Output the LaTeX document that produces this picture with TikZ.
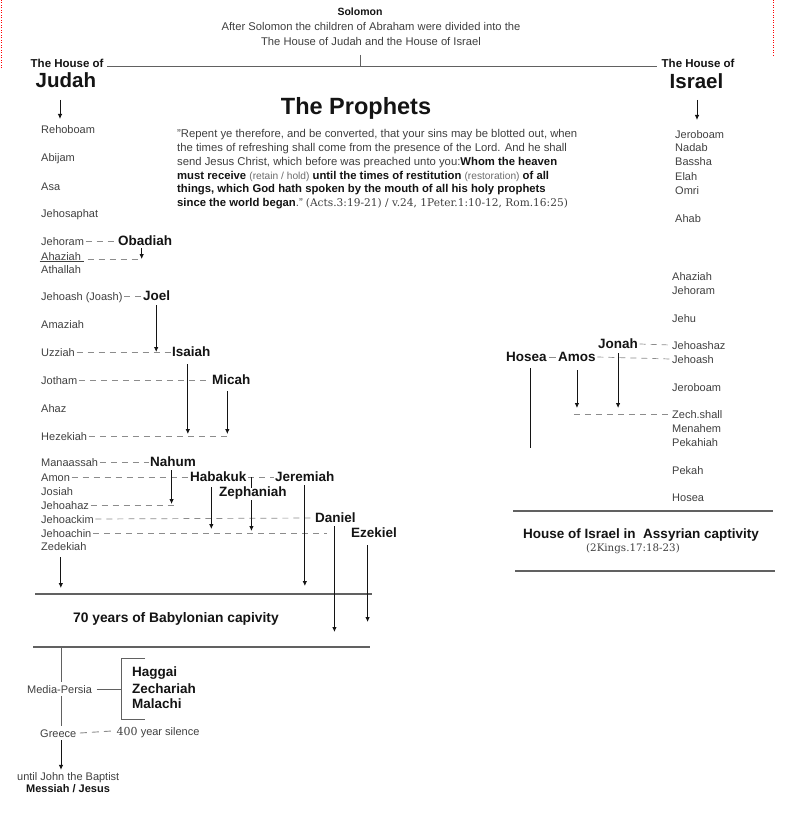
\documentclass[tikz,border=0pt]{standalone}
\usepackage{fontspec}
\setmainfont{Liberation Sans}
\newfontfamily\citefont{DejaVu Serif}
\usetikzlibrary{arrows.meta}
\definecolor{txt}{gray}{0.25}
\definecolor{dk}{gray}{0.08}
\definecolor{dashc}{gray}{0.55}
\definecolor{rulec}{gray}{0.38}
\definecolor{parc}{gray}{0.42}
\newcommand{\qb}[1]{{\bfseries\color{dk}#1}}
\newcommand{\qp}[1]{{\fontsize{10.2}{11}\selectfont\color{parc}#1}}
\begin{document}
\begin{tikzpicture}[x=1pt,y=-1pt,
  king/.style={font=\fontsize{11}{13}\selectfont, text=txt, inner xsep=1.5pt, inner ysep=0pt, text height=8pt, text depth=0pt, anchor=west},
  proph/.style={font=\bfseries\fontsize{13.5}{16}\selectfont, text=dk, inner xsep=1.5pt, inner ysep=0pt, text height=9.7pt, text depth=0pt, anchor=west},
  hdr/.style={font=\bfseries\fontsize{11.5}{13}\selectfont, text=dk, inner xsep=1.5pt, inner ysep=0pt, text height=8.2pt, text depth=0pt, anchor=west},
  big/.style={font=\bfseries\fontsize{20.5}{24}\selectfont, text=dk, inner xsep=1.5pt, inner ysep=0pt, text height=14.6pt, text depth=0pt, anchor=west},
  quote/.style={font=\fontsize{11.3}{12}\selectfont, text=txt, inner sep=0pt, anchor=base west},
  dsh/.style={draw=dashc, line width=0.7pt, dash pattern=on 6pt off 5pt},
  arr/.style={draw=dk, line width=0.8pt, -{Latex[length=5pt,width=4.5pt]}},
  rulel/.style={draw=rulec, line width=1.1pt},
  sline/.style={draw=rulec, line width=0.8pt},
]
\fill[white] (0,0) rectangle (802,821);
\useasboundingbox (0,0) rectangle (802,821);

% stray red dotted marks at the edges
\coordinate (redA) at (1,0); \coordinate (redB) at (1,68);
\coordinate (redC) at (773,0); \coordinate (redD) at (773,57);
\draw[red, line width=0.6pt, dash pattern=on 1pt off 1.5pt] (redA) -- (redB);
\draw[red, line width=0.6pt, dash pattern=on 1pt off 1.5pt] (redC) -- (redD);

% ---------- top ----------
\node[font=\bfseries\fontsize{10.5}{12}\selectfont, text=dk, inner sep=0pt] (solomon) at (360,12) {Solomon};
\node[font=\fontsize{11.2}{12}\selectfont, text=txt, inner sep=0pt] (after1) at (371,26) {After Solomon the children of Abraham were divided into the};
\node[font=\fontsize{11.2}{12}\selectfont, text=txt, inner sep=0pt] (after2) at (371,41) {The House of Judah and the House of Israel};
\coordinate (tick) at (360,55);

\node[hdr] (houseJ) at (29,63) {The House of};
\node[big] (judah) at (34,80) {Judah};
\node[hdr] (houseI) at (660,63) {The House of};
\node[big] (israel) at (668,81) {Israel};
\draw[rulel] ([xshift=2pt,yshift=1pt]houseJ.base east) -- ([xshift=-3pt,yshift=1pt]houseI.base west);
\draw[sline] (tick) -- ([yshift=1pt]tick |- houseJ.base);

\coordinate (ja) at (60,100); \coordinate (jb) at (60,119);
\draw[arr] (ja) -- (jb);
\coordinate (ia) at (697,100); \coordinate (ib) at (697,120);
\draw[arr] (ia) -- (ib);

% ---------- title and quote ----------
\node[font=\bfseries\fontsize{23.5}{28}\selectfont, text=dk, inner sep=0pt] (title) at (356,108) {The Prophets};
\node[quote] (q1) at (177,137.6) {"Repent ye therefore, and be converted, that your sins may be blotted out, when};
\node[quote] (q2) at (177,151.4) {the times of refreshing shall come from the presence of the Lord. And he shall};
\node[quote] (q3) at (177,165.2) {send Jesus Christ, which before was preached unto you:\qb{Whom the heaven}};
\node[quote] (q4) at (177,179.0) {\qb{must receive} \qp{(retain / hold)} \qb{until the times of restitution} \qp{(restoration)} \qb{of all}};
\node[quote] (q5) at (177,192.8) {\qb{things, which God hath spoken by the mouth of all his holy prophets}};
\node[quote] (q6) at (177,206.6) {\qb{since the world began}." {\citefont\fontsize{10.6}{13}\selectfont(Acts.3:19-21) / v.24, 1Peter.1:10-12, Rom.16:25)}};

% ---------- Judah kings ----------
\node[king] (rehoboam) at (39.5,130) {Rehoboam};
\node[king] (abijam) at (39.5,158) {Abijam};
\node[king] (asa) at (39.5,186) {Asa};
\node[king] (jehosaphat) at (39.5,213) {Jehosaphat};
\node[king] (jehoram) at (39.5,241) {Jehoram};
\node[king] (ahaziahJ) at (39.5,256) {Ahaziah};
\node[king] (athallah) at (39.5,269) {Athallah};
\node[king] (jehoash) at (39.5,296) {Jehoash (Joash)};
\node[king] (amaziah) at (39.5,324) {Amaziah};
\node[king] (uzziah) at (39.5,352) {Uzziah};
\node[king] (jotham) at (39.5,380) {Jotham};
\node[king] (ahaz) at (39.5,408) {Ahaz};
\node[king] (hezekiah) at (39.5,436) {Hezekiah};
\node[king] (manaassah) at (39.5,462) {Manaassah};
\node[king] (amon) at (39.5,477) {Amon};
\node[king] (josiah) at (39.5,491) {Josiah};
\node[king] (jehoahaz) at (39.5,505) {Jehoahaz};
\node[king] (jehoackim) at (39.5,519) {Jehoackim};
\node[king] (jehoachin) at (39.5,533) {Jehoachin};
\node[king] (zedekiah) at (39.5,546) {Zedekiah};

% ---------- prophets of Judah ----------
\node[proph] (obadiah) at (116.5,241) {Obadiah};
\node[proph] (joel) at (141.5,296) {Joel};
\node[proph] (isaiah) at (170.5,352) {Isaiah};
\node[proph] (micah) at (210.5,380) {Micah};
\node[proph] (nahum) at (148.5,462) {Nahum};
\node[proph] (habakuk) at (188.5,477) {Habakuk};
\node[proph] (jeremiah) at (273.5,477) {Jeremiah};
\node[proph] (zephaniah) at (217.5,492) {Zephaniah};
\node[proph] (daniel) at (313.5,518) {Daniel};
\node[proph] (ezekiel) at (349.5,533) {Ezekiel};

% Obadiah / Ahaziah
\draw[draw=txt, line width=0.6pt] ([yshift=-1pt]ahaziahJ.base west) -- ([xshift=1pt,yshift=-1pt]ahaziahJ.base east);
\draw[dsh] (jehoram.east) -- (obadiah.west);
\coordinate (obX) at ([xshift=-3.5pt,yshift=-2pt]obadiah.south);
\draw[dsh] ([xshift=5pt,yshift=1pt]ahaziahJ.base east) -- ([xshift=-3pt,yshift=1pt]obX |- ahaziahJ.base);
\draw[arr] (obX) -- ([yshift=1pt]obX |- ahaziahJ.base);

% Joel
\draw[dsh] (jehoash.east) -- (joel.west);
\coordinate (joX) at ([xshift=-0.5pt,yshift=-4pt]joel.south);
\draw[arr] (joX) -- (joX |- uzziah.east);
\draw[dsh] (uzziah.east) -- (isaiah.west);

% Isaiah, Micah
\draw[dsh] (jotham.east) -- (micah.west);
\coordinate (isX) at ([xshift=-3.5pt,yshift=-7pt]isaiah.south);
\draw[arr] (isX) -- ([yshift=2pt]isX |- hezekiah.east);
\coordinate (miX) at ([xshift=-4pt,yshift=-6pt]micah.south);
\draw[arr] (miX) -- ([yshift=2pt]miX |- hezekiah.east);
\coordinate (hzE) at ([xshift=4pt]miX);
\draw[dsh] (hezekiah.east) -- (hzE |- hezekiah.east);

% Nahum .. Ezekiel
\draw[dsh] (manaassah.east) -- (nahum.west);
\draw[dsh] (amon.east) -- (habakuk.west);
\coordinate (naX) at ([xshift=-1.5pt,yshift=-3pt]nahum.south);
\draw[arr] (naX) -- ([yshift=1pt]naX |- jehoahaz.east);
\coordinate (naE) at ([xshift=2pt]naX);
\draw[dsh] (jehoahaz.east) -- (naE |- jehoahaz.east);

\draw[dsh] (jehoackim.east) -- (daniel.west);
\coordinate (dnX) at ([xshift=-1pt,yshift=-3pt]daniel.south);
\coordinate (jcE) at ([xshift=-7pt]dnX);
\draw[dsh] (jehoachin.east) -- (jcE |- jehoachin.east);

\coordinate (hbX) at ([xshift=-7pt,yshift=-5pt]habakuk.south);
\draw[arr] (hbX) -- ([yshift=4pt]hbX |- jehoachin.east);
\draw[dsh] (habakuk.east) -- (jeremiah.west);
\coordinate (zpX) at ([xshift=-1.5pt,yshift=-3pt]zephaniah.south);
\draw[sline, draw=dk] (zpX |- habakuk.east) -- ([yshift=-1pt]zpX |- zephaniah.north);
\draw[arr] (zpX) -- ([yshift=2pt]zpX |- jehoachin.east);

% captivity rules
\coordinate (l1a) at (35,594); \coordinate (l1b) at (372,594);
\coordinate (l2a) at (33,647); \coordinate (l2b) at (370,647);
\draw[rulel] (l1a) -- (l1b);
\draw[rulel] (l2a) -- (l2b);
\node[font=\bfseries\fontsize{13.8}{16}\selectfont, text=dk, inner sep=0pt, anchor=west] (seventy) at (73,619) {70 years of Babylonian capivity};

\draw[arr] ([yshift=-3pt]jeremiah.south) -- ([yshift=8pt]jeremiah.south |- l1a);
\draw[arr] (dnX) -- ([yshift=15pt]dnX |- l2a);
\coordinate (ezX) at ([xshift=-6.5pt,yshift=-7pt]ezekiel.south);
\draw[arr] (ezX) -- ([yshift=25pt]ezX |- l2a);
\coordinate (zdX) at ([xshift=-3pt,yshift=-7pt]zedekiah.south);
\draw[arr] (zdX) -- ([yshift=6pt]zdX |- l1a);

% ---------- after the exile ----------
\node[king, inner ysep=3pt] (mediapersia) at (25.5,689) {Media-Persia};
\node[king, inner ysep=3pt] (greece) at (38.5,733) {Greece};
\node[king, inner ysep=3pt] (john) at (15.5,776) {until John the Baptist};
\node[font=\bfseries\fontsize{11}{13}\selectfont, text=dk, inner sep=0pt] (messiah) at (68,789) {Messiah / Jesus};
\node[king, anchor=west] (silence) at (115,731) {{\citefont\fontsize{11}{13}\selectfont 400} year silence};

\coordinate (vtop) at (61,647);
\draw[sline] (vtop) -- (vtop |- mediapersia.north);
\draw[sline] (vtop |- mediapersia.south) -- (vtop |- greece.north);
\draw[arr] (vtop |- greece.south) -- ([yshift=-1pt]vtop |- john.north);

\coordinate (brA) at (145,658); \coordinate (brB) at (121,658);
\coordinate (brC) at (121,719); \coordinate (brD) at (145,719);
\draw[sline] (brA) -- (brB) -- (brC) -- (brD);
\draw[sline] ([xshift=3pt]mediapersia.east) -- (brB |- mediapersia.east);
\node[proph] (haggai) at (130.5,672) {Haggai};
\node[proph] (zechariah) at (130.5,689) {Zechariah};
\node[proph] (malachi) at (130.5,704) {Malachi};
\draw[draw=dashc, line width=0.9pt, dash pattern=on 7pt off 5pt] ([xshift=2pt]greece.east) -- ([xshift=-3pt]silence.west);

% ---------- Israel kings ----------
\node[king] (jeroboam) at (673.5,135) {Jeroboam};
\node[king] (nadab) at (673.5,148) {Nadab};
\node[king] (bassha) at (673.5,162) {Bassha};
\node[king] (elah) at (673.5,176) {Elah};
\node[king] (omri) at (673.5,190) {Omri};
\node[king] (ahab) at (673.5,218) {Ahab};
\node[king] (ahaziahI) at (670.5,276) {Ahaziah};
\node[king] (jehoramI) at (670.5,290) {Jehoram};
\node[king] (jehu) at (670.5,318) {Jehu};
\node[king] (jehoashaz) at (670.5,345) {Jehoashaz};
\node[king] (jehoashI) at (670.5,359) {Jehoash};
\node[king] (jeroboamII) at (670.5,387) {Jeroboam};
\node[king] (zech) at (670.5,414) {Zech.shall};
\node[king] (menahem) at (670.5,428) {Menahem};
\node[king] (pekahiah) at (670.5,442) {Pekahiah};
\node[king] (pekah) at (670.5,470) {Pekah};
\node[king] (hoseaK) at (670.5,497) {Hosea};

% ---------- prophets of Israel ----------
\node[proph] (jonah) at (596.5,344) {Jonah};
\node[proph] (hoseaP) at (504.5,357) {Hosea};
\node[proph] (amos) at (556.5,357) {Amos};

\draw[dsh] (jonah.east) -- (jehoashaz.west);
\draw[sline, draw=dashc] ([xshift=1pt]hoseaP.east) -- ([xshift=-1pt]amos.west);
\draw[dsh] (amos.east) -- (jehoashI.west);
\coordinate (hsX) at ([xshift=3.5pt,yshift=-6pt]hoseaP.south);
\draw[sline, draw=dk] (hsX) -- ([yshift=-6pt]hsX |- pekahiah.east);
\coordinate (amX) at ([yshift=-8pt]amos.south);
\draw[arr] (amX) -- ([yshift=6pt]amX |- zech.east);
\coordinate (jnX) at ([yshift=-4pt]jonah.south);
\draw[arr] (jnX) -- ([yshift=6pt]jnX |- zech.east);
\draw[dsh] ([xshift=-3pt]amX |- zech.east) -- (zech.west);

% Assyrian captivity
\coordinate (r1a) at (513,511); \coordinate (r1b) at (773,511);
\coordinate (r2a) at (515,571); \coordinate (r2b) at (775,571);
\draw[rulel] (r1a) -- (r1b);
\draw[rulel] (r2a) -- (r2b);
\node[font=\bfseries\fontsize{13.5}{16}\selectfont, text=dk, inner sep=0pt] (assyria) at (641,535) {House of Israel in\ \ Assyrian captivity};
\node[font=\citefont\fontsize{10.3}{13}\selectfont, text=txt, inner sep=0pt] (kings) at (633,549) {(2Kings.17:18-23)};
\end{tikzpicture}
\end{document}
